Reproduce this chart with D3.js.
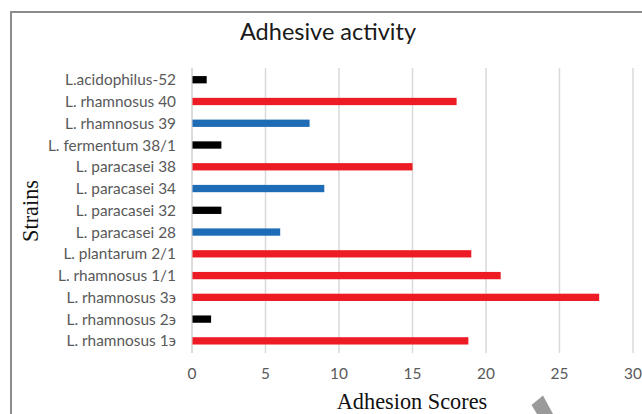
<!DOCTYPE html>
<html><head><meta charset="utf-8">
<script src="https://cdn.jsdelivr.net/npm/d3@7"></script>
<style>body{margin:0;background:#fff}svg{display:block}</style>
</head><body>
<svg id="c" width="642" height="414"></svg>
<script>
const categories = ["L.acidophilus-52","L. rhamnosus 40","L. rhamnosus 39","L. fermentum 38/1","L. paracasei 38","L. paracasei 34","L. paracasei 32","L. paracasei 28","L. plantarum 2/1","L. rhamnosus 1/1","L. rhamnosus 3э","L. rhamnosus 2э","L. rhamnosus 1э"];
const values = [1.0,18.0,8.0,2.0,15.0,9.0,2.0,6.0,19.0,21.0,27.7,1.3,18.8];
const groups = ["k","r","b","k","r","b","k","b","r","r","r","k","r"];
const xTicks = [0,5,10,15,20,25,30];
const colorMap = {r:"#ED1C24", b:"#1F6CB6", k:"#000000"};

const svg = d3.select("#c");
// outer frame
svg.append("path").attr("d","M11,414 V12 H642").attr("fill","none").attr("stroke","#8c8c8c").attr("stroke-width",2);

const x = d3.scaleLinear().domain([0,30]).range([192,633]);
const y = d3.scaleBand().domain(categories).range([68.8,351.7]).paddingInner(0.66).paddingOuter(0.33);

// gridlines
svg.append("g").selectAll("line").data(xTicks).join("line")
  .attr("x1",d=>x(d)).attr("x2",d=>x(d)).attr("y1",68).attr("y2",353)
  .attr("stroke",d=>d===0?"#cfcfcf":"#d9d9d9").attr("stroke-width",1.5);

// bars
svg.append("g").selectAll("rect").data(values).join("rect")
  .attr("x",x(0)+0.5).attr("y",(d,i)=>y(categories[i]) + y.bandwidth()/2 - 3.6)
  .attr("width",d=>x(d)-x(0)-0.5).attr("height",7.3)
  .attr("fill",(d,i)=>colorMap[groups[i]]);

// category labels
svg.append("g").selectAll("text").data(categories).join("text")
  .attr("x",176).attr("y",d=>y(d)+y.bandwidth()/2).attr("dy","0.36em")
  .attr("text-anchor","end").attr("font-family","Lato, 'Open Sans', sans-serif").attr("font-size",15.4)
  .attr("fill","#595959").text(d=>d);

// x tick labels
svg.append("g").selectAll("text").data(xTicks).join("text")
  .attr("x",d=>x(d)).attr("y",378.5).attr("text-anchor","middle")
  .attr("font-family","Lato, 'Open Sans', sans-serif").attr("font-size",15.4)
  .attr("fill","#595959").text(d=>d);

// title
svg.append("text").attr("x",328).attr("y",40).attr("text-anchor","middle")
  .attr("font-family","Lato, 'Open Sans', sans-serif").attr("font-size",23.5)
  .attr("fill","#1a1a1a").text("Adhesive activity");

// axis titles
svg.append("text").attr("x",412).attr("y",408.5).attr("text-anchor","middle")
  .attr("font-family","'Liberation Serif', 'DejaVu Serif', serif").attr("font-size",22.3)
  .attr("fill","#111").text("Adhesion Scores");
svg.append("text").attr("transform","translate(38,211) rotate(-90)").attr("text-anchor","middle")
  .attr("font-family","'Liberation Serif', 'DejaVu Serif', serif").attr("font-size",22.3)
  .attr("fill","#111").text("Strains");

// grey pointer mark (artifact in reference)
svg.append("polygon").attr("points","531.5,405 543,395.5 553,414 537,414").attr("fill","#9a9a9a");
</script>
</body></html>
